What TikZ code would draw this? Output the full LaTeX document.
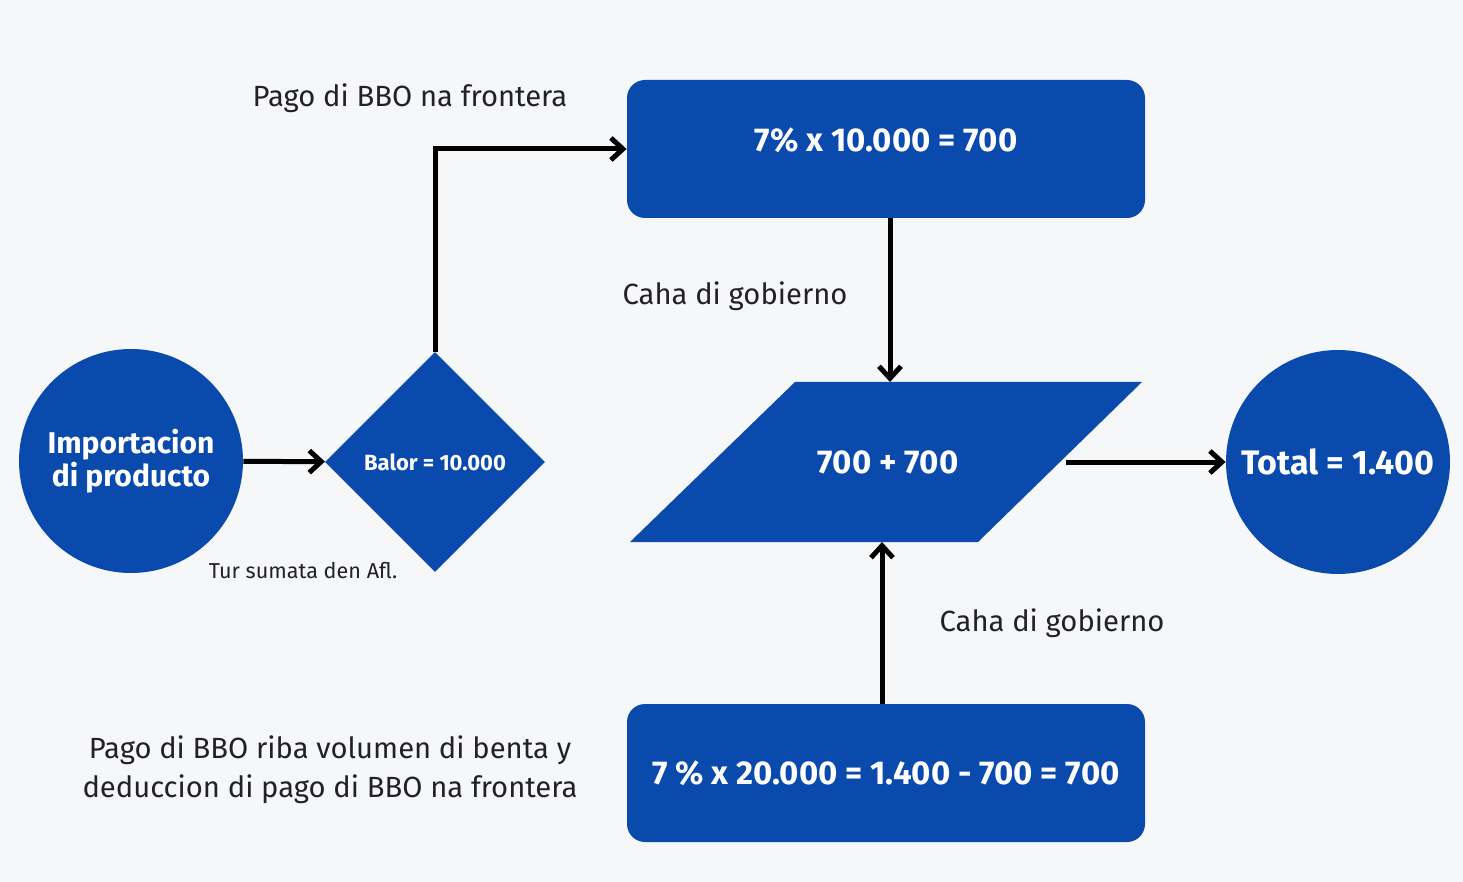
\documentclass[tikz,border=0pt]{standalone}
\usepackage{fontspec}
\setmainfont{Fira Sans}
\usetikzlibrary{shapes.geometric, arrows.meta, positioning}
\definecolor{flowblue}{RGB}{10, 74, 172}
\definecolor{bggray}{RGB}{246, 247, 249}
\definecolor{notegray}{RGB}{34, 34, 38}

\begin{document}
\begin{tikzpicture}[
    x=0.5pt, y=-0.5pt,
    startend/.style={circle, fill=flowblue, minimum size=112pt, inner sep=0pt, align=center, text=white, font=\fontsize{15}{14.5}\selectfont\bfseries},
    decision/.style={diamond, fill=flowblue, minimum width=110pt, minimum height=110pt, inner sep=0pt, text=white, font=\fontsize{11}{13}\selectfont\bfseries},
    calcbox/.style={rectangle, rounded corners=9pt, fill=flowblue, minimum width=259pt, minimum height=69pt, text=white, font=\fontsize{16.5}{19}\selectfont\bfseries},
    sumtext/.style={text=white, font=\fontsize{16.5}{19}\selectfont\bfseries},
    arrow/.style={-{Straight Barb[length=6pt, width=11pt]}, line width=2.5pt, black},
    note/.style={font=\fontsize{14.6}{19.5}\selectfont, text=notegray, align=center}
]
    \fill[bggray] (0,0) rectangle (1463,882);
    \useasboundingbox (0,0) rectangle (1463,882);

    % parallelogram of the sum
    \fill[flowblue] (795,382) -- (1142,382) -- (978,542) -- (630,542) -- cycle;
    \coordinate (sumtop) at (890,382);
    \coordinate (sumbottom) at (882,542);
    \coordinate (sumright) at (1066,462);

    \node (imp) [startend] at (131,461) {Importacion\\di producto};
    \node (balor) [decision] at (435,462) {Balor = 10.000};
    \node (tax1) [calcbox, text depth=9pt] at (886,149) {7\% x 10.000 = 700};
    \node (sum) [sumtext] at (888,462) {700 + 700};
    \node (total) [startend, font=\fontsize{17}{19}\selectfont\bfseries] at (1338,462) {Total = 1.400};
    \node (tax2) [calcbox] at (886,773) {7 \% x 20.000 = 1.400 - 700 = 700};

    \node (lbfrontera) [note] at (410,98) {Pago di BBO na frontera};
    \node (lbcaha1) [note] at (735,296) {Caha di gobierno};
    \node (lbcaha2) [note] at (1052,623) {Caha di gobierno};
    \node (lbtur) [note, font=\fontsize{10.8}{12}\selectfont] at (303,571) {Tur sumata den Afl.};
    \node (lbbenta) [note] at (330,770) {Pago di BBO riba volumen di benta y\\deduccion di pago di BBO na frontera};

    \draw [arrow] (imp) -- (balor);
    \draw [arrow] (balor.north) |- (tax1.west);
    \draw [arrow] (tax1.south -| sumtop) -- (sumtop);
    \draw [arrow] (tax2.north -| sumbottom) -- (sumbottom);
    \draw [arrow] (sumright) -- (total.west);
\end{tikzpicture}
\end{document}
